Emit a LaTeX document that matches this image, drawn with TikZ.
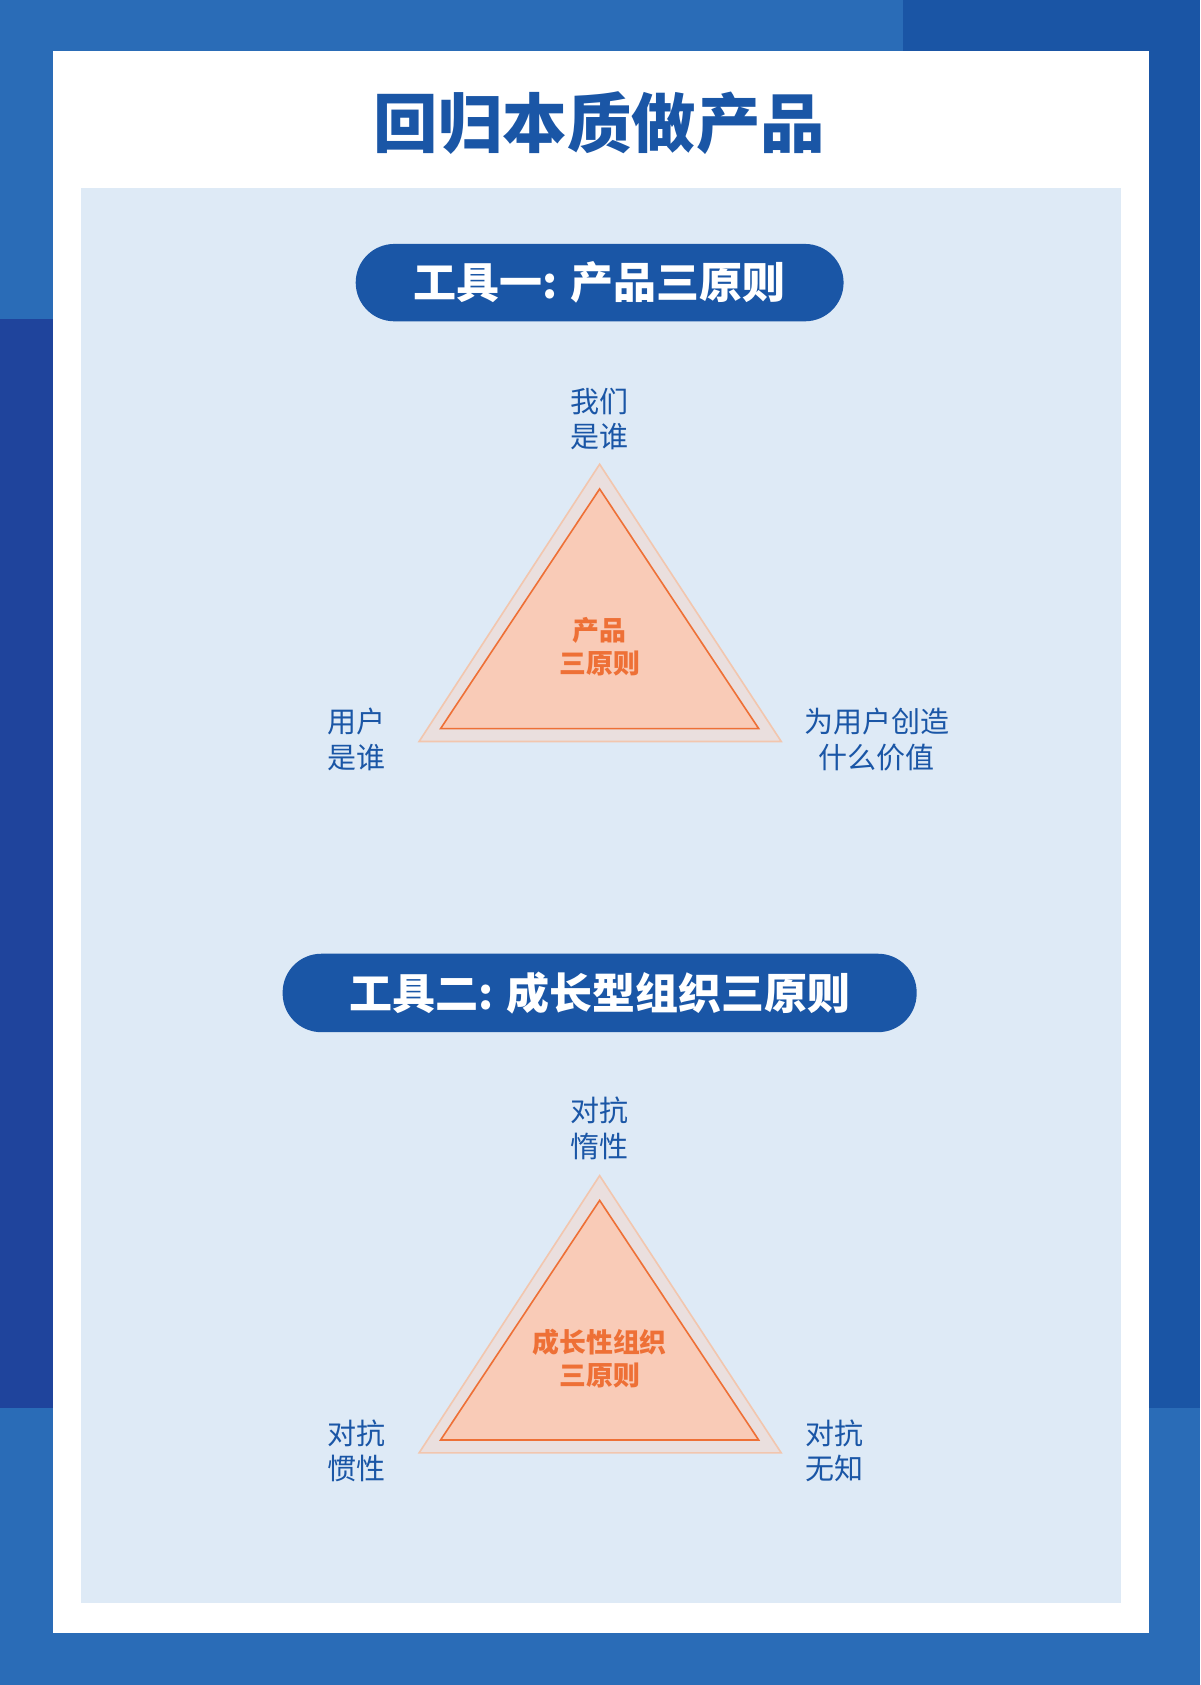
\documentclass[tikz,border=0pt]{standalone}
\usepackage{fontspec}
\setmainfont{Noto Sans CJK SC}
\definecolor{bglight}{HTML}{2A6CB7}
\definecolor{bgdarkL}{HTML}{1F449C}
\definecolor{bgdarkR}{HTML}{1A55A5}
\definecolor{panel}{HTML}{DEEAF6}
\definecolor{navy}{HTML}{1A56A6}
\definecolor{triout}{HTML}{EADFDE}
\definecolor{trioutline}{HTML}{F2C6AE}
\definecolor{triin}{HTML}{F9CBB7}
\definecolor{orng}{HTML}{EE7036}
\tikzset{
 pill/.style={fill=navy,rounded corners=36pt,text=white,font=\bfseries\fontsize{40}{44}\selectfont,inner sep=0pt},
 lbl/.style={text=navy,font=\fontsize{27}{33}\selectfont,align=center},
 ctr/.style={text=orng,font=\bfseries\fontsize{25}{31}\selectfont,align=center},
 outtri/.style={fill=triout,draw=trioutline,line width=1.5pt},
 intri/.style={fill=triin,draw=orng,line width=1.5pt},
}
\begin{document}
\begin{tikzpicture}[x=1pt,y=-1pt]
\useasboundingbox (0,0) rectangle (1117,1568);
\fill[bglight] (0,0) rectangle (1117,1568);
\fill[bgdarkL] (0,297) rectangle (49,1310);
\fill[bgdarkR] (840,0) rectangle (1117,1310);
\fill[white] (49,47) rectangle (1069,1520);
\fill[panel] (75,175) rectangle (1043,1492);
\node[text=navy,font=\bfseries\fontsize{60}{66}\selectfont] (title) at (558,115) {回归本质做产品};
% tool 1
\node[pill,minimum width=454pt,minimum height=72pt] (p1) at (558,263) {工具一: 产品三原则};
\path[outtri] (558,432) -- (390,690) -- (727,690) -- cycle;
\path[intri] (558,455) -- (410,678) -- (706,678) -- cycle;
\node[ctr] (c1) at (558,602) {产品\\三原则};
\node[lbl] (a1) at (558,390) {我们\\是谁};
\node[lbl] (b1) at (332,688) {用户\\是谁};
\node[lbl] (d1) at (816,688) {为用户创造\\什么价值};
% tool 2
\node[pill,minimum width=590pt,minimum height=73pt] (p2) at (558,924) {工具二: 成长型组织三原则};
\path[outtri] (558,1094) -- (390,1352) -- (727,1352) -- cycle;
\path[intri] (558,1117) -- (410,1340) -- (706,1340) -- cycle;
\node[ctr] (c2) at (558,1264) {成长性组织\\三原则};
\node[lbl] (a2) at (558,1050) {对抗\\惰性};
\node[lbl] (b2) at (332,1350) {对抗\\惯性};
\node[lbl] (d2) at (777,1350) {对抗\\无知};
\end{tikzpicture}
\end{document}
